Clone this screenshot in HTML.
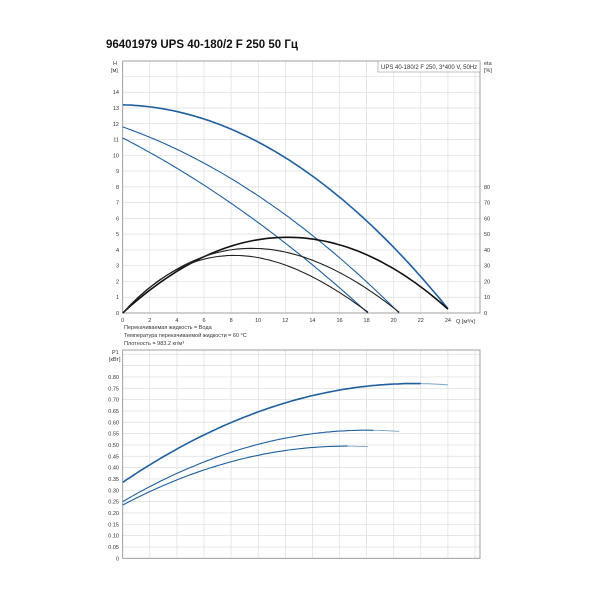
<!DOCTYPE html>
<html><head><meta charset="utf-8"><style>
body{margin:0;background:#fff;width:600px;height:600px;overflow:hidden}
svg{font-family:"Liberation Sans","DejaVu Sans",sans-serif}
</style></head><body>
<svg id="s" width="600" height="600" xmlns="http://www.w3.org/2000/svg">
<text x="106" y="48" font-size="11.5" font-weight="bold" fill="#111">96401979 UPS 40-180/2 F 250 50 Гц</text>
<g id="g"></g>
<rect x="378" y="61" width="102" height="11" fill="#fff" stroke="#999" stroke-width="0.6"/>
<text x="381" y="69" font-size="6" fill="#333">UPS 40-180/2 F 250, 3*400 V, 50Hz</text>
<text x="113" y="65" font-size="5.5" fill="#333">H</text>
<text x="111" y="72" font-size="5.5" fill="#333">[м]</text>
<text x="484" y="65" font-size="5.5" fill="#333">eta</text>
<text x="484" y="72" font-size="5.5" fill="#333">[%]</text>
<text x="456" y="323" font-size="5.5" fill="#333">Q [м³/ч]</text>
<text x="124" y="329" font-size="5.5" fill="#333">Перекачиваемая жидкость = Вода</text>
<text x="124" y="337" font-size="5.5" fill="#333">Температура перекачиваемой жидкости = 60 °C</text>
<text x="124" y="345" font-size="5.5" fill="#333">Плотность = 983.2 кг/м³</text>
<text x="112" y="354" font-size="5.5" fill="#333">P1</text>
<text x="109" y="361" font-size="5.5" fill="#333">[кВт]</text>
</svg>
<script>
var g=document.getElementById('g'),h='';
function X(q){return 122.7+q*13.55}
function YH(v){return 313-v*15.77}
function YP(p){return 558.3-p*226.7}
for(var q=2;q<=26;q+=2)h+='<line x1="'+X(q)+'" y1="61" x2="'+X(q)+'" y2="313" stroke="#ddd" stroke-width="0.7"/>';
for(var v=1;v<=15;v++)h+='<line x1="122.7" y1="'+YH(v)+'" x2="480" y2="'+YH(v)+'" stroke="#ddd" stroke-width="0.7"/>';
h+='<rect x="122.7" y="61" width="357.3" height="252" fill="none" stroke="#888" stroke-width="0.8"/>';
for(var v=0;v<=14;v++)h+='<text x="119" y="'+(YH(v)+2)+'" font-size="5.5" text-anchor="end" fill="#333">'+v+'</text>';
for(var v=0;v<=8;v++)h+='<text x="484" y="'+(YH(v)+2)+'" font-size="5.5" fill="#333">'+(v*10)+'</text>';
for(var q=0;q<=24;q+=2)h+='<text x="'+X(q)+'" y="322" font-size="5.5" text-anchor="middle" fill="#333">'+q+'</text>';
for(var q=2;q<=26;q+=2)h+='<line x1="'+X(q)+'" y1="350" x2="'+X(q)+'" y2="558.3" stroke="#ddd" stroke-width="0.7"/>';
for(var i=1;i<=18;i++)h+='<line x1="122.7" y1="'+YP(i*0.05)+'" x2="480" y2="'+YP(i*0.05)+'" stroke="#ddd" stroke-width="0.7"/>';
h+='<rect x="122.7" y="350" width="357.3" height="208.3" fill="none" stroke="#888" stroke-width="0.8"/>';
for(var i=0;i<=16;i++)h+='<text x="119" y="'+(YP(i*0.05)+2)+'" font-size="5.5" text-anchor="end" fill="#333">'+(i==0?'0':(i*0.05).toFixed(2))+'</text>';
function path(f,q0,q1,Y,col,w){var d='';for(var q=q0;q<=q1+1e-9;q+=(q1-q0)/80){d+=(d?'L':'M')+X(q).toFixed(1)+','+Y(f(q)).toFixed(1)}
h+='<path d="'+d+'" fill="none" stroke="'+col+'" stroke-width="'+w+'"/>'}
path(function(q){return 13.2-0.02*q-0.0216*q*q},0,24,YH,'#1f5f9e',1.6);
path(function(q){return 11.8-0.301*q-0.0136*q*q},0,20.4,YH,'#1f5f9e',1.1);
path(function(q){return 11.1-0.442*q-0.00948*q*q},0,18.1,YH,'#1f5f9e',1.1);
// skewed eta: q(qe-q)(1+m q), fit peak position qp, height hh, end value e0
function eta(hh,qe,qp,e0){
 var best=0,bm=0;
 for(var m=-0.06;m<=0.0;m+=0.0002){var mx=-1,am=0;for(var q=0;q<=qe;q+=0.02){var v=q*(qe-q)*(1+m*q);if(v>mx){mx=v;am=q}}
  if(Math.abs(am-qp)<Math.abs(best-qp)||m==-0.06){best=am;bm=m}}
 var mx=0;for(var q=0;q<=qe;q+=0.02){var v=q*(qe-q)*(1+bm*q);if(v>mx)mx=v}
 var k=(hh-e0*qp/qe)/mx;
 return function(q){return k*q*(qe-q)*(1+bm*q)+e0*q/qe}}
path(eta(4.8,24,12,0.25),0,24,YH,'#111',1.6);
path(eta(4.1,20.4,9.5,0.05),0,20.4,YH,'#222',1.1);
path(eta(3.65,18.1,8.2,0.05),0,18.1,YH,'#222',1.1);
path(function(q){return 0.335+0.0405*q-0.000941*q*q},0,22,YP,'#1f5f9e',1.6);
path(function(q){return 0.335+0.0405*q-0.000941*q*q},22,24,YP,'#7aa4cc',1);
path(function(q){return 0.25+0.035*q-0.000972*q*q},0,18.5,YP,'#1f5f9e',1.1);
path(function(q){return 0.25+0.035*q-0.000972*q*q},18.5,20.4,YP,'#7aa4cc',0.9);
path(function(q){return 0.235+0.0315*q-0.000955*q*q},0,16.6,YP,'#1f5f9e',1.1);
path(function(q){return 0.235+0.0315*q-0.000955*q*q},16.6,18.1,YP,'#7aa4cc',0.9);
g.innerHTML=h;
</script>
</body></html>
